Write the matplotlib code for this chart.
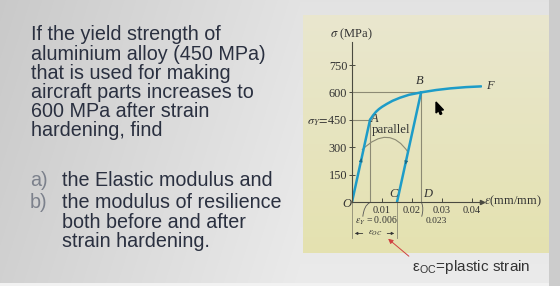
import numpy as np
import matplotlib
matplotlib.use("Agg")
import matplotlib.pyplot as plt
from matplotlib.patches import Polygon, PathPatch
from matplotlib.path import Path

# ---------------- data ----------------
question_lines = ["If the yield strength of", "aluminium alloy (450 MPa)",
                  "that is used for making", "aircraft parts increases to",
                  "600 MPa after strain", "hardening, find"]
item_markers = ["a)", "b)"]
item_a_lines = ["the Elastic modulus and"]
item_b_lines = ["the modulus of resilience", "both before and after",
                "strain hardening."]

stress_ticks = [150, 300, 450, 600, 750]
stress_tick_labels = ["150", "300", r"$\sigma_Y\!=\!$450", "600", "750"]
strain_ticks = [0.01, 0.02, 0.03, 0.04]
strain_tick_labels = ["0.01", "0.02", "0.03", "0.04"]

elastic_strain = [0.0, 0.006]
elastic_stress = [0, 450]
hardening_strain = [0.006, 0.007, 0.008, 0.009, 0.010, 0.0116, 0.0135,
                    0.016, 0.019, 0.023, 0.028, 0.0327, 0.038, 0.043]
hardening_stress = [450, 474, 494, 509, 521, 537, 554, 571, 587, 600, 613,
                    622, 629, 633]
unload_strain = [0.023, 0.015]
unload_stress = [600, 0]

yield_strain, yield_stress = 0.006, 450
B_strain, B_stress = 0.023, 600
C_strain = 0.015

W, H = 560, 286
fig = plt.figure(figsize=(W / 100, H / 100), dpi=100)
plt.rcParams["mathtext.fontset"] = "stix"

# ---------------- background (pixel coords) ----------------
bg = fig.add_axes([0, 0, 1, 1])
bg.set_xlim(0, W)
bg.set_ylim(H, 0)
bg.axis("off")

xx = np.arange(W)[None, :] * np.ones((H, 1))
yy = np.arange(H)[:, None] * np.ones((1, W))
g = 0.79 + 0.10 * np.clip(xx / 300, 0, 1) + 0.03 * (yy / H)
img = np.stack([g, g, g], axis=-1)
img[yy > 282] = [0.95, 0.95, 0.95]
panel = (xx >= 303) & (xx <= 548) & (yy >= 15) & (yy <= 252)
t = (yy - 15) / 237.0
img[..., 0] = np.where(panel, 0.915 - 0.02 * t, img[..., 0])
img[..., 1] = np.where(panel, 0.905 - 0.02 * t, img[..., 1])
img[..., 2] = np.where(panel, 0.81 - 0.12 * t, img[..., 2])
right = xx > 548
img[right] = [0.80, 0.80, 0.80]
bg.imshow(img, extent=(0, W, H, 0), aspect="auto", zorder=0)

txt_color = "#2a3040"
sans = "Liberation Sans"
fs = 14.2
y0, dy = 35, 19.2
for i, line in enumerate(question_lines):
    bg.text(31, y0 + i * dy, line, fontsize=fs, family=sans, color=txt_color,
            va="center", ha="left")
bg.text(30, 180, item_markers[0], fontsize=fs, family=sans, color="#7c818c",
        va="center")
bg.text(30, 202.7, item_markers[1], fontsize=fs, family=sans, color="#7c818c",
        va="center")
bg.text(62, 180, item_a_lines[0], fontsize=fs, family=sans, color=txt_color,
        va="center")
for i, line in enumerate(item_b_lines):
    bg.text(62, 202.7 + i * 19.5, line, fontsize=fs, family=sans,
            color=txt_color, va="center")

bg.text(412, 267, r"ε$_\mathregular{OC}$=plastic strain", fontsize=11,
        family=sans, color="#333", va="center", ha="left")
bg.annotate("", xy=(386, 237), xytext=(411, 258),
            arrowprops=dict(arrowstyle="-|>", color="#d04040", lw=0.7,
                            mutation_scale=7))
cursor = [(436, 102), (436, 113), (438.6, 110.6), (440.2, 114.5),
          (441.8, 113.8), (440.3, 110.1), (443.5, 110)]
bg.add_patch(Polygon(cursor, closed=True, color="black", zorder=5))

# ---------------- stress-strain axes ----------------
ax = fig.add_axes([352 / W, (H - 202) / H, 130 / W, 160 / H])
ax.set_xlim(0, 0.0433)
ax.set_ylim(0, 876)
ax.patch.set_alpha(0)
for s in ["top", "right"]:
    ax.spines[s].set_visible(False)
for s in ["left", "bottom"]:
    ax.spines[s].set_color("#4a4a40")
    ax.spines[s].set_linewidth(0.8)
ax.plot(1, 0, ">", transform=ax.get_yaxis_transform(), color="#4a4a40",
        ms=3, clip_on=False)

serif = "Liberation Serif"
tc = "#333"
ax.set_yticks(stress_ticks)
ax.set_yticklabels(stress_tick_labels, family=serif, fontsize=8.8, color=tc)
ax.set_xticks(strain_ticks)
ax.set_xticklabels(strain_tick_labels, family=serif, fontsize=7.5, color=tc)
ax.tick_params(axis="y", direction="inout", length=4, width=0.7,
               color="#4a4a40", pad=1.5)
ax.tick_params(axis="x", direction="in", length=3, width=0.7,
               color="#4a4a40", pad=3)

gray = "#8c8a74"
ax.plot([0, B_strain], [B_stress, B_stress], color=gray, lw=0.8)
ax.plot([B_strain, B_strain], [0, B_stress], color=gray, lw=0.8)
ax.plot([0, yield_strain], [yield_stress, yield_stress], color=gray, lw=0.8)
ax.plot([yield_strain, yield_strain], [0, yield_stress], color=gray, lw=0.8)

blue = "#1d9cc8"
ax.plot(elastic_strain, elastic_stress, color=blue, lw=1.8,
        solid_capstyle="round")
ax.plot(hardening_strain, hardening_stress, color=blue, lw=1.8,
        solid_joinstyle="round", solid_capstyle="round")
ax.plot(unload_strain, unload_stress, color=blue, lw=1.8)
# direction arrows on loading / unloading lines
ax.annotate("", xy=(0.0032, 240), xytext=(0.0029, 218),
            arrowprops=dict(arrowstyle="-|>", color="#146a8a", lw=0.6,
                            mutation_scale=5))
ax.annotate("", xy=(0.0178, 205), xytext=(0.0181, 228),
            arrowprops=dict(arrowstyle="-|>", color="#146a8a", lw=0.6,
                            mutation_scale=5))

# "parallel" arc
arc = Path([(0.0033, 285), (0.0123, 430), (0.0187, 272)],
           [Path.MOVETO, Path.CURVE3, Path.CURVE3])
ax.add_patch(PathPatch(arc, fc="none", ec=gray, lw=0.8))
ax.text(0.0130, 394, "parallel", family=serif, fontsize=9.3, color=tc,
        ha="center", va="center")

ax.text(-0.0003, 920, r"$\sigma$ (MPa)", family=serif, fontsize=9,
        color=tc, ha="center", va="center", clip_on=False)
ax.text(0.0062, 456, "A", family=serif, style="italic", fontsize=9,
        color=tc, ha="left", va="center")
ax.text(0.0225, 660, "B", family=serif, style="italic", fontsize=9,
        color=tc, ha="center", va="center")
ax.text(0.0448, 635, "F", family=serif, style="italic", fontsize=9,
        color=tc, ha="left", va="center", clip_on=False)
ax.text(-0.0018, -12, "O", family=serif, style="italic", fontsize=9,
        color=tc, ha="center", va="center", clip_on=False)
ax.text(0.0137, 42, "C", family=serif, style="italic", fontsize=9,
        color=tc, ha="center", va="center")
ax.text(0.0252, 42, "D", family=serif, style="italic", fontsize=9,
        color=tc, ha="center", va="center")
ax.text(0.0441, 5, r"$\epsilon$(mm/mm)", family=serif, fontsize=9,
        color=tc, ha="left", va="center", clip_on=False)
ax.text(0.0080, -104, r"$\epsilon_Y$ = 0.006", family=serif, fontsize=7,
        color=tc, ha="center", va="center", clip_on=False)
ax.text(0.0280, -104, "0.023", family=serif, fontsize=6.8,
        color=tc, ha="center", va="center", clip_on=False)
ax.text(0.0076, -170, r"$\epsilon_{OC}$", family=serif, fontsize=6.3,
        color=tc, ha="center", va="center", clip_on=False)
# small leader arcs under the axis
for pts in ([(0.0036, -80), (0.0040, -20), (0.0058, -5)],
            [(0.0232, -80), (0.0240, -35), (0.0232, -5)]):
    ax.add_patch(PathPatch(Path(pts, [Path.MOVETO, Path.CURVE3, Path.CURVE3]),
                           fc="none", ec="#555", lw=0.6, clip_on=False))
for xv in [0.0, C_strain]:
    ax.plot([xv, xv], [0, -195], color=gray, lw=0.6, clip_on=False)
ax.annotate("", xy=(0.0, -172), xytext=(0.0045, -172),
            arrowprops=dict(arrowstyle="-|>", color=tc, lw=0.6,
                            mutation_scale=4), annotation_clip=False)
ax.annotate("", xy=(C_strain, -172), xytext=(0.0108, -172),
            arrowprops=dict(arrowstyle="-|>", color=tc, lw=0.6,
                            mutation_scale=4), annotation_clip=False)

fig.savefig("out.png", dpi=100)
